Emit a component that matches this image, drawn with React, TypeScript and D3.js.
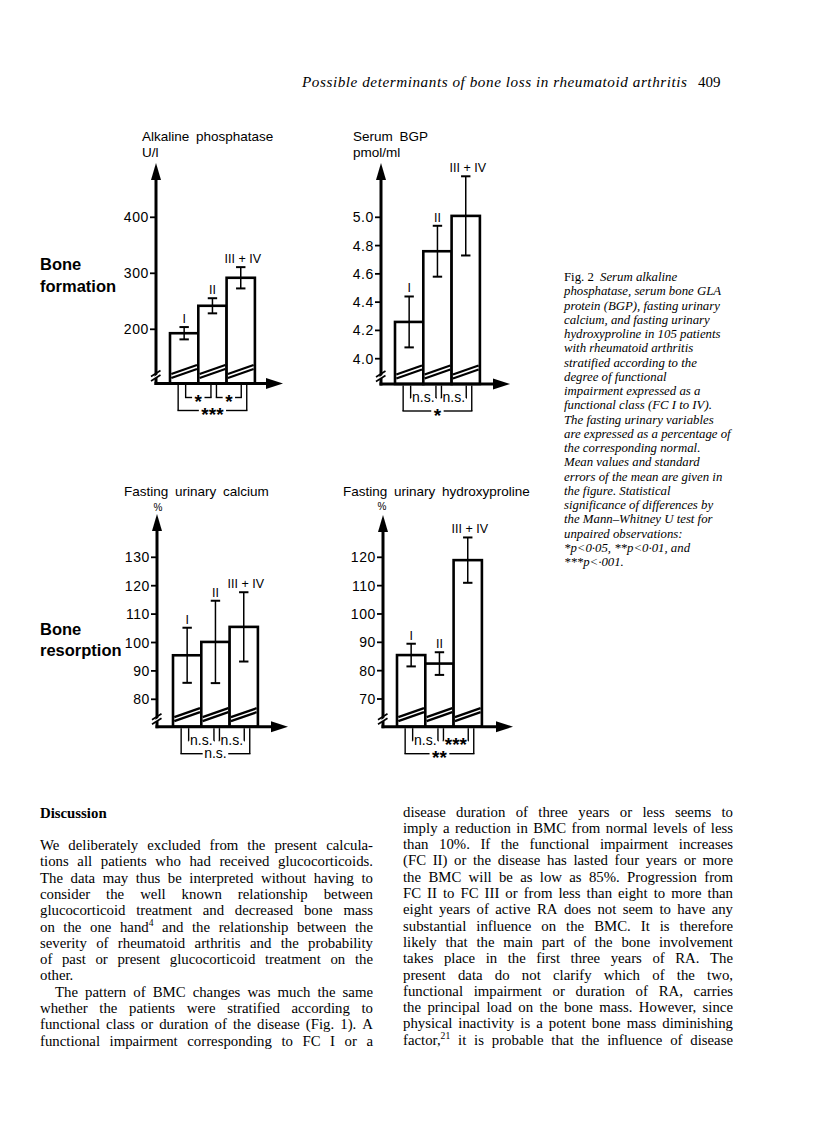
import React from "react";
import * as d3 from "d3";

// ---------------- data ----------------
const classes = ["I", "II", "III + IV"];

const alkalineMean = [193, 242, 292];
const alkalineSE = [11, 13.5, 19];
const alkalineTicks = [200, 300, 400];
const alkalineSig = ["*", "*", "***"];

const bgpMean = [4.26, 4.76, 5.01];
const bgpSE = [0.18, 0.18, 0.28];
const bgpTicks = [4.0, 4.2, 4.4, 4.6, 4.8, 5.0];
const bgpSig = ["n.s.", "n.s.", "*"];

const calciumMean = [95.5, 100.2, 105.5];
const calciumSE = [9.7, 14.5, 12.2];
const calciumTicks = [80, 90, 100, 110, 120, 130];
const calciumSig = ["n.s.", "n.s.", "n.s."];

const hydroxyMean = [85.5, 82.5, 119];
const hydroxySE = [4, 4, 8];
const hydroxyTicks = [70, 80, 90, 100, 110, 120];
const hydroxySig = ["n.s.", "***", "**"];

const headerText = "Possible determinants of bone loss in rheumatoid arthritis";
const pageNumber = "409";

const captionLines = [
  "Serum alkaline",
  "phosphatase, serum bone GLA",
  "protein (BGP), fasting urinary",
  "calcium, and fasting urinary",
  "hydroxyproline in 105 patients",
  "with rheumatoid arthritis",
  "stratified according to the",
  "degree of functional",
  "impairment expressed as a",
  "functional class (FC I to IV).",
  "The fasting urinary variables",
  "are expressed as a percentage of",
  "the corresponding normal.",
  "Mean values and standard",
  "errors of the mean are given in",
  "the figure. Statistical",
  "significance of differences by",
  "the Mann\u2013Whitney U test for",
  "unpaired observations:",
  "*p<0\u00b705, **p<0\u00b701, and",
  "***p<\u00b7001.",
];

const leftColumn = [
  { t: "We deliberately excluded from the present calcula-" },
  { t: "tions all patients who had received glucocorticoids." },
  { t: "The data may thus be interpreted without having to" },
  { t: "consider the well known relationship between" },
  { t: "glucocorticoid treatment and decreased bone mass" },
  { t: "on the one hand^4 and the relationship between the" },
  { t: "severity of rheumatoid arthritis and the probability" },
  { t: "of past or present glucocorticoid treatment on the" },
  { t: "other.", last: true },
  { t: "The pattern of BMC changes was much the same", indent: true },
  { t: "whether the patients were stratified according to" },
  { t: "functional class or duration of the disease (Fig. 1). A" },
  { t: "functional impairment corresponding to FC I or a" },
];

const rightColumn = [
  "disease duration of three years or less seems to",
  "imply a reduction in BMC from normal levels of less",
  "than 10%. If the functional impairment increases",
  "(FC II) or the disease has lasted four years or more",
  "the BMC will be as low as 85%. Progression from",
  "FC II to FC III or from less than eight to more than",
  "eight years of active RA does not seem to have any",
  "substantial influence on the BMC. It is therefore",
  "likely that the main part of the bone involvement",
  "takes place in the first three years of RA. The",
  "present data do not clarify which of the two,",
  "functional impairment or duration of RA, carries",
  "the principal load on the bone mass. However, since",
  "physical inactivity is a potent bone mass diminishing",
  "factor,^21 it is probable that the influence of disease",
];

// ---------------- helpers ----------------
const SANS = "'Liberation Sans', Arial, Helvetica, sans-serif";
const SERIF = "'Liberation Serif', 'Times New Roman', serif";
const BAR_W = 28.3;

let _ctx: CanvasRenderingContext2D | null = null;
function tw(s: string, font: string) {
  if (!_ctx) _ctx = document.createElement("canvas").getContext("2d");
  _ctx!.font = font;
  return _ctx!.measureText(s).width;
}

type PanelProps = {
  title: string;
  unit: string;
  unitSmall?: boolean;
  titleX: number;
  titleY: number;
  unitX: number;
  unitY: number;
  x0: number;
  axisY: number;
  tipY: number;
  tipX: number;
  domain: [number, number];
  range: [number, number];
  ticks: number[];
  tickFmt: (v: number) => string;
  barStart: number;
  means: number[];
  ses: number[];
  sig: string[];
};

const STAR_SIZE = 19;

function SigLabel({ label, x, y }: { label: string; x: number; y: number }) {
  const star = label.includes("*");
  return (
    <text
      x={x}
      y={star ? y + 10.5 : y + 4}
      textAnchor="middle"
      fontFamily={SANS}
      fontSize={star ? STAR_SIZE : 14}
      fontWeight={star ? 700 : 400}
    >
      {label}
    </text>
  );
}

function Bracket({
  x1,
  x2,
  y0,
  yl,
  label,
}: {
  x1: number;
  x2: number;
  y0: number;
  yl: number;
  label: string;
}) {
  const star = label.includes("*");
  const gw =
    tw(label, `${star ? 700 : 400} ${star ? STAR_SIZE : 14}px ${SANS}`) + (star ? 5 : 3);
  const mid = (x1 + x2) / 2;
  const a = Math.max(x1, mid - gw / 2);
  const b = Math.min(x2, mid + gw / 2);
  return (
    <g stroke="#000" strokeWidth={1.4} fill="none">
      <line x1={x1} y1={y0} x2={x1} y2={yl} />
      <line x1={x2} y1={y0} x2={x2} y2={yl} />
      <line x1={x1 - 0.7} y1={yl} x2={a} y2={yl} />
      <line x1={b} y1={yl} x2={x2 + 0.7} y2={yl} />
      <g stroke="none" fill="#000">
        <SigLabel label={label} x={mid} y={yl} />
      </g>
    </g>
  );
}

function Panel(p: PanelProps) {
  const y = d3.scaleLinear().domain(p.domain).range(p.range);
  const x = d3
    .scaleBand<string>()
    .domain(classes)
    .range([p.barStart, p.barStart + 3 * BAR_W])
    .padding(0);
  const bw = x.bandwidth();
  const cx = classes.map((c) => (x(c) as number) + bw / 2);
  const { x0, axisY } = p;

  return (
    <g>
      <text x={p.titleX} y={p.titleY} fontFamily={SANS} fontSize={13.5} wordSpacing={3}>
        {p.title}
      </text>
      <text
        x={p.unitX}
        y={p.unitY}
        fontFamily={SANS}
        fontSize={p.unitSmall ? 10 : 13.5}
        textAnchor={p.unitSmall ? "middle" : "start"}
      >
        {p.unit}
      </text>

      {/* bars */}
      {classes.map((c, i) => {
        const bx = x(c) as number;
        const top = y(p.means[i]);
        return (
          <rect
            key={"b" + c}
            x={bx}
            y={top}
            width={bw}
            height={axisY - top}
            fill="#fff"
            stroke="#000"
            strokeWidth={2.6}
          />
        );
      })}
      {/* break diagonals in bars */}
      {classes.map((c) => {
        const bx = x(c) as number;
        const xa = bx + 1.3;
        const xb = bx + bw - 1.3;
        return (
          <g key={"d" + c} stroke="#000" strokeWidth={2.3}>
            <line x1={xa} y1={axisY - 5.5} x2={xb} y2={axisY - 14.5} />
            <line x1={xa} y1={axisY - 9.5} x2={xb} y2={axisY - 18.5} />
          </g>
        );
      })}
      {/* error bars */}
      {classes.map((c, i) => {
        const hi = y(p.means[i] + p.ses[i]);
        const lo = y(p.means[i] - p.ses[i]);
        const xc = cx[i];
        return (
          <g key={"e" + c} stroke="#000">
            <line x1={xc} y1={hi} x2={xc} y2={lo} strokeWidth={1.5} />
            <line x1={xc - 4.7} y1={hi} x2={xc + 4.7} y2={hi} strokeWidth={2} />
            <line x1={xc - 4.7} y1={lo} x2={xc + 4.7} y2={lo} strokeWidth={2} />
          </g>
        );
      })}
      {/* class labels */}
      {classes.map((c, i) => (
        <text
          key={"l" + c}
          x={cx[i] + (i === 2 ? 2 : 0)}
          y={y(p.means[i] + p.ses[i]) - 4}
          textAnchor="middle"
          fontFamily={SANS}
          fontSize={12.5}
        >
          {c}
        </text>
      ))}

      {/* axes */}
      <line x1={x0} y1={axisY + 1.5} x2={x0} y2={p.tipY + 14} stroke="#000" strokeWidth={3} />
      <polygon
        points={`${x0},${p.tipY} ${x0 - 5},${p.tipY + 17} ${x0 + 5},${p.tipY + 17}`}
        fill="#000"
      />
      <line x1={x0 - 1.5} y1={axisY} x2={p.tipX - 14} y2={axisY} stroke="#000" strokeWidth={3} />
      <polygon
        points={`${p.tipX},${axisY} ${p.tipX - 17},${axisY - 5.5} ${p.tipX - 17},${axisY + 5.5}`}
        fill="#000"
      />
      {/* axis break */}
      <polygon
        points={`${x0 - 3},${axisY - 6} ${x0 + 3},${axisY - 10} ${x0 + 3},${axisY - 7.5} ${x0 - 3},${axisY - 3.5}`}
        fill="#fff"
      />
      <g stroke="#000" strokeWidth={1.6}>
        <line x1={x0 - 5} y1={axisY - 2.5} x2={x0 + 4.5} y2={axisY - 8.5} />
        <line x1={x0 - 5} y1={axisY - 7} x2={x0 + 4.5} y2={axisY - 13} />
      </g>

      {/* ticks */}
      {p.ticks.map((t) => (
        <g key={"t" + t}>
          <line x1={x0 - 6} y1={y(t)} x2={x0} y2={y(t)} stroke="#000" strokeWidth={1.8} />
          <text
            x={x0 - 7}
            y={y(t) + 5}
            textAnchor="end"
            fontFamily={SANS}
            fontSize={14}
            letterSpacing={0.6}
          >
            {p.tickFmt(t)}
          </text>
        </g>
      ))}

      {/* significance brackets */}
      <Bracket x1={cx[0] + 1.5} x2={cx[1] - 1.5} y0={axisY + 1.5} yl={axisY + 14} label={p.sig[0]} />
      <Bracket x1={cx[1] + 4} x2={cx[2] + 0.5} y0={axisY + 1.5} yl={axisY + 14} label={p.sig[1]} />
      <Bracket x1={cx[0] - 6} x2={cx[2] + 6} y0={axisY + 1.5} yl={axisY + 27} label={p.sig[2]} />
    </g>
  );
}

function renderWord(w: string, x: number, y: number, key: string, size: number) {
  const [main, sup] = w.split("^");
  return (
    <text key={key} x={x} y={y} fontFamily={SERIF} fontSize={size}>
      {main}
      {sup ? (
        <tspan fontSize={size * 0.65} dy={-6}>
          {sup}
        </tspan>
      ) : null}
    </text>
  );
}

function wordWidth(w: string, size: number) {
  const [main, sup] = w.split("^");
  let width = tw(main, `${size}px ${SERIF}`);
  if (sup) width += tw(sup, `${size * 0.65}px ${SERIF}`);
  return width;
}

function JustLine({
  text,
  x,
  y,
  width,
  justify,
  size,
}: {
  text: string;
  x: number;
  y: number;
  width: number;
  justify: boolean;
  size: number;
}) {
  const words = text.split(" ");
  const widths = words.map((w) => wordWidth(w, size));
  const sum = widths.reduce((a, b) => a + b, 0);
  const natural = tw(" ", `${size}px ${SERIF}`);
  const gap = justify && words.length > 1 ? Math.max(2, (width - sum) / (words.length - 1)) : natural;
  let cur = x;
  return (
    <g>
      {words.map((w, i) => {
        const el = renderWord(w, cur, y, "w" + i, size);
        cur += widths[i] + gap;
        return el;
      })}
    </g>
  );
}

export default function App() {
  const BODY = 14.8;
  return (
    <svg
      width={816}
      height={1144}
      viewBox="0 0 816 1144"
      style={{ position: "absolute", left: 0, top: 0, background: "#fff" }}
    >
      <rect x={0} y={0} width={816} height={1144} fill="#fff" />

      {/* running header */}
      <text
        x={302}
        y={87}
        fontFamily={SERIF}
        fontSize={15.2}
        fontStyle="italic"
        textLength={385}
        lengthAdjust="spacing"
      >
        {headerText}
      </text>
      <text x={698} y={87} fontFamily={SERIF} fontSize={15}>
        {pageNumber}
      </text>

      {/* panels */}
      <Panel
        title="Alkaline phosphatase"
        unit="U/l"
        titleX={142}
        titleY={141}
        unitX={142}
        unitY={157}
        x0={156}
        axisY={383.5}
        tipY={163}
        tipX={283}
        domain={[200, 400]}
        range={[329.3, 217.3]}
        ticks={alkalineTicks}
        tickFmt={(v) => d3.format("d")(v)}
        barStart={170}
        means={alkalineMean}
        ses={alkalineSE}
        sig={alkalineSig}
      />
      <Panel
        title="Serum BGP"
        unit="pmol/ml"
        titleX={353}
        titleY={141}
        unitX={353}
        unitY={157}
        x0={381}
        axisY={384}
        tipY={163}
        tipX={510}
        domain={[4.0, 5.0]}
        range={[358.7, 217.3]}
        ticks={bgpTicks}
        tickFmt={(v) => d3.format(".1f")(v)}
        barStart={395}
        means={bgpMean}
        ses={bgpSE}
        sig={bgpSig}
      />
      <Panel
        title="Fasting urinary calcium"
        unit="%"
        unitSmall
        titleX={124}
        titleY={496}
        unitX={158}
        unitY={511}
        x0={157}
        axisY={726.7}
        tipY={514}
        tipX={288}
        domain={[80, 130]}
        range={[699.3, 557.3]}
        ticks={calciumTicks}
        tickFmt={(v) => d3.format("d")(v)}
        barStart={173}
        means={calciumMean}
        ses={calciumSE}
        sig={calciumSig}
      />
      <Panel
        title="Fasting urinary hydroxyproline"
        unit="%"
        unitSmall
        titleX={343}
        titleY={496}
        unitX={382}
        unitY={510}
        x0={383}
        axisY={726.7}
        tipY={515}
        tipX={513}
        domain={[70, 120]}
        range={[699, 557.3]}
        ticks={hydroxyTicks}
        tickFmt={(v) => d3.format("d")(v)}
        barStart={397}
        means={hydroxyMean}
        ses={hydroxySE}
        sig={hydroxySig}
      />

      {/* row labels */}
      <g fontFamily={SANS} fontSize={16.5} fontWeight={700}>
        <text x={40} y={270}>Bone</text>
        <text x={40} y={292}>formation</text>
        <text x={40} y={635}>Bone</text>
        <text x={40} y={656}>resorption</text>
      </g>

      {/* caption */}
      <g fontFamily={SERIF} fontSize={12.8}>
        <text x={564} y={281}>Fig. 2</text>
        {captionLines.map((l, i) => (
          <text key={"c" + i} x={i === 0 ? 600 : 564} y={281 + i * 14.25} fontStyle="italic">
            {l}
          </text>
        ))}
      </g>

      {/* body text */}
      <text x={40} y={818} fontFamily={SERIF} fontSize={BODY} fontWeight={700}>
        Discussion
      </text>
      {leftColumn.map((l, i) => (
        <JustLine
          key={"L" + i}
          text={l.t}
          x={l.indent ? 55 : 40}
          y={850 + i * 16.3}
          width={l.indent ? 318 : 333}
          justify={!l.last}
          size={BODY}
        />
      ))}
      {rightColumn.map((t, i) => (
        <JustLine
          key={"R" + i}
          text={t}
          x={403}
          y={816.5 + i * 16.3}
          width={330}
          justify={true}
          size={BODY}
        />
      ))}
    </svg>
  );
}
